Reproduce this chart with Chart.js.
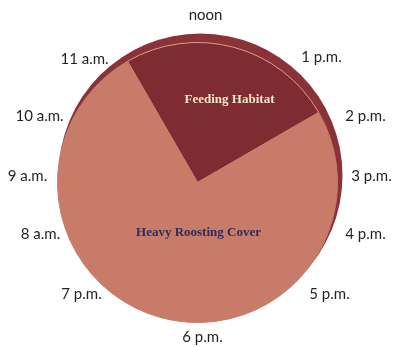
<!DOCTYPE html>
<html>
<head>
<meta charset="utf-8">
<script src="https://cdn.jsdelivr.net/npm/chart.js@4"></script>
<style>
  html, body { margin: 0; padding: 0; background: #fff; }
  #wrap { width: 395px; height: 347px; }
</style>
</head>
<body>
<div id="wrap"><canvas id="clockChart" width="395" height="347"></canvas></div>
<script>
// hours of the 12-hour day spent in each habitat, starting at 11 a.m.
const habitats = ["Feeding Habitat", "Heavy Roosting Cover"];
const hours = [3, 9];
const sliceColors = ["#7e2b31", "#c87b69"];
const sliceTextColors = ["#f6e7c9", "#2f2b5c"];

// clock face labels, noon at the top, going clockwise
const hourLabels = ["noon", "1 p.m.", "2 p.m.", "3 p.m.", "4 p.m.", "5 p.m.",
                    "6 p.m.", "7 p.m.", "8 a.m.", "9 a.m.", "10 a.m.", "11 a.m."];
// where each clock label sits, relative to the centre of the pie
const labelOffsets = [[8, -167], [124, -125], [168, -66], [174, -6], [168, 52], [132, 112],
                      [5, 155], [-116, 112], [-157, 52], [-170, -6], [-158, -66], [-113, -123]];
// slice names, relative to the centre of the pie
const nameOffsets = [[32, -83], [1, 50]];

// dark disc peeking out behind the pie
const backDisc = {
  id: "backDisc",
  beforeDatasetsDraw(chart) {
    const arc = chart.getDatasetMeta(0).data[0];
    const c = chart.ctx;
    c.save();
    c.fillStyle = "#8a3238";
    c.beginPath();
    c.arc(arc.x + 3, arc.y - 7, arc.outerRadius + 2, 0, Math.PI * 2);
    c.fill();
    c.restore();
  }
};

// hour labels round the pie and the names inside the slices
const clockText = {
  id: "clockText",
  afterDraw(chart) {
    const meta = chart.getDatasetMeta(0);
    const cx = meta.data[0].x, cy = meta.data[0].y;
    const c = chart.ctx;
    c.save();
    c.textAlign = "center";
    c.textBaseline = "middle";
    c.fillStyle = "#231f20";
    c.font = "15px Lato";
    hourLabels.forEach((t, i) => {
      c.fillText(t, cx + labelOffsets[i][0], cy + labelOffsets[i][1]);
    });

    c.font = "bold 13px 'Liberation Serif'";
    habitats.forEach((name, i) => {
      c.fillStyle = sliceTextColors[i];
      c.fillText(name, cx + nameOffsets[i][0], cy + nameOffsets[i][1]);
    });
    c.restore();
  }
};

new Chart(document.getElementById("clockChart"), {
  type: "pie",
  data: {
    labels: habitats,
    datasets: [{
      data: hours,
      backgroundColor: sliceColors,
      borderColor: ["#d9a08e", "#c87b69"],
      borderWidth: 1,
      hoverOffset: 0
    }]
  },
  options: {
    responsive: false,
    animation: false,
    rotation: -30,
    layout: { padding: { left: 57, right: 57, top: 42, bottom: 24 } },
    plugins: {
      legend: { display: false },
      tooltip: { enabled: false }
    }
  },
  plugins: [backDisc, clockText]
});
</script>
</body>
</html>
